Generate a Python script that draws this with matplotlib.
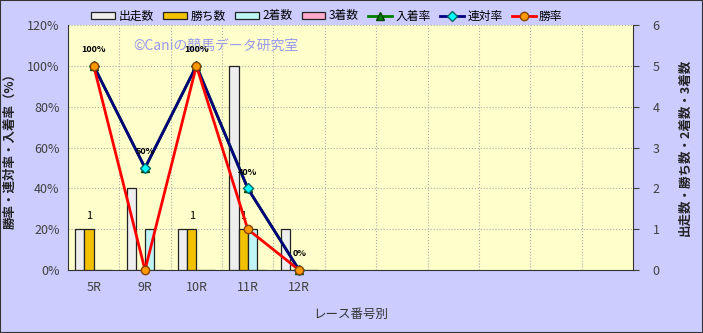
import matplotlib
matplotlib.use('Agg')
import matplotlib.pyplot as plt
import numpy as np

plt.rcParams['font.family'] = ['Noto Sans CJK JP', 'DejaVu Sans']

races = ['5R', '9R', '10R', '11R', '12R', '', '', '', '', '', '']
starts = [1, 2, 1, 5, 1]
wins = [1, 0, 1, 1, 0]
seconds = [0, 1, 0, 1, 0]
thirds = [0, 0, 0, 0, 0]
place_rate = [100, 50, 100, 40, 0]
quinella_rate = [100, 50, 100, 40, 0]
win_rate = [100, 0, 100, 20, 0]

fig = plt.figure(figsize=(7.03, 3.33), dpi=100)
fig.patch.set_facecolor('#CCCCFF')
ax = fig.add_axes([0.0967, 0.189, 0.8037, 0.736])
ax.set_facecolor('#FFFFCC')
ax2 = ax.twinx()

x = np.arange(len(starts))
w = 0.18
bar_kw = dict(edgecolor='#222222', linewidth=0.9, zorder=3)
b1 = ax.bar(x - 1.5 * w, starts, w, color='#EEEEEE', label='出走数', **bar_kw)
b2 = ax.bar(x - 0.5 * w, wins, w, color='#F2C200', label='勝ち数', **bar_kw)
b3 = ax.bar(x + 0.5 * w, seconds, w, color='#BFF5F5', label='2着数', **bar_kw)
b4 = ax.bar(x + 1.5 * w, thirds, w, color='#FFAACC', label='3着数', **bar_kw)
for xi, v in zip(x, wins):
    if v > 0:
        ax.text(xi - 0.5 * w, v + 0.2, str(v), ha='center', va='bottom', fontsize=8)

ax.set_xlim(-0.5, len(races) - 0.5)
ax.set_ylim(0, 6)
ax.set_xticks(np.arange(len(races)))
ax.set_xticklabels(races)
ax.set_xticks(np.arange(len(races) - 1) + 0.5, minor=True)
ax.tick_params(axis='x', which='both', length=0, colors='#404040', labelsize=9, pad=8)
ax.yaxis.tick_right()
ax.yaxis.set_label_position('right')
ax.set_yticks(range(0, 7))
ax.tick_params(axis='y', direction='out', length=4, colors='#404040', labelsize=9, pad=10)
ax.grid(True, which='minor', axis='x', color='#AAAAAA', linestyle=':', linewidth=0.8)
ax.grid(True, which='major', axis='y', color='#AAAAAA', linestyle=':', linewidth=0.8)
ax.set_axisbelow(True)
ax.set_ylabel('出走数・勝ち数・2着数・3着数', rotation=90, fontsize=9, labelpad=14,
              fontweight='bold', color='#222222')
ax.set_xlabel('レース番号別', fontsize=9, color='#333333', labelpad=10)
for s in ['left', 'bottom', 'right', 'top']:
    ax.spines[s].set_color('#333333')
ax.spines['top'].set_visible(False)

l1, = ax2.plot(x, place_rate, color='green', linewidth=2, marker='^', markersize=6,
               markerfacecolor='green', markeredgecolor='#004400', label='入着率')
l2, = ax2.plot(x, quinella_rate, color='#000080', linewidth=2, marker='D', markersize=5,
               markerfacecolor='cyan', markeredgecolor='#006666', label='連対率')
l3, = ax2.plot(x, win_rate, color='red', linewidth=2, marker='o', markersize=6,
               markerfacecolor='#FF9900', markeredgecolor='#884400', label='勝率')
for xi, v in zip(x, quinella_rate):
    ax2.text(xi, v + 8, f'{v}%', ha='center', va='center', fontsize=6.5, fontweight='bold')
ax2.set_ylim(0, 120)
ax2.yaxis.tick_left()
ax2.yaxis.set_label_position('left')
ax2.set_yticks(range(0, 121, 20))
ax2.set_yticklabels([f'{v}%' for v in range(0, 121, 20)])
ax2.tick_params(axis='y', direction='out', length=0, colors='#404040', labelsize=9, pad=6)
ax2.set_ylabel('勝率・連対率・入着率（%）', fontsize=9, fontweight='bold', color='#222222', labelpad=8)
for s in ['left', 'bottom', 'right', 'top']:
    ax2.spines[s].set_visible(False)
for l in [l1, l2, l3]:
    l.set_clip_on(False)

ax.text(0.115, 0.915, '©Caniの競馬データ研究室', transform=ax.transAxes, fontsize=10,
        color='#9999EE', ha='left', va='center', zorder=1)

fig.legend([b1, b2, b3, b4, l1, l2, l3],
           ['出走数', '勝ち数', '2着数', '3着数', '入着率', '連対率', '勝率'],
           loc='center', bbox_to_anchor=(0.465, 0.952), ncol=7, frameon=False,
           fontsize=8.5, handlelength=2.0, handletextpad=0.3, columnspacing=0.8,
           handleheight=0.5)

fig.patches.append(plt.Rectangle((0, 0), 1, 1, transform=fig.transFigure, fill=False,
                                 edgecolor='#333333', linewidth=1.5))
fig.savefig('out.png', dpi=100, facecolor=fig.get_facecolor())
